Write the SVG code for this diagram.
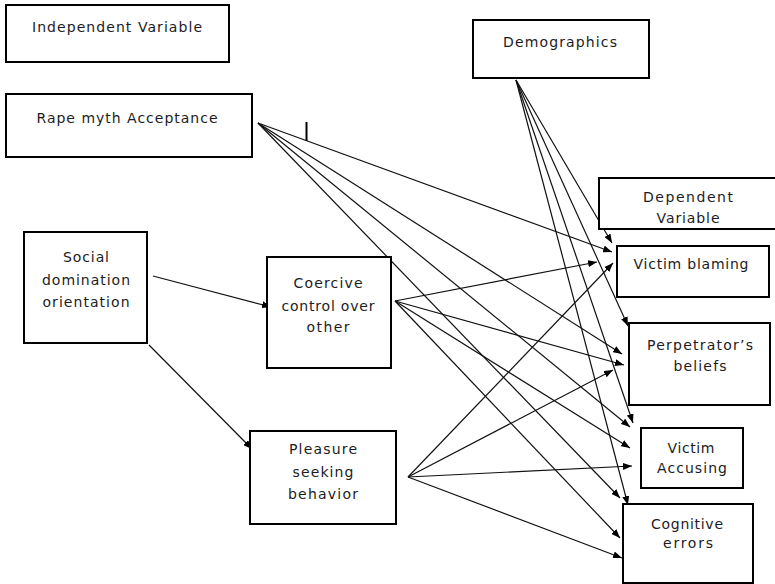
<svg xmlns="http://www.w3.org/2000/svg" width="775" height="584" viewBox="0 0 775 584">
<defs>
<style>
.box{fill:#fff;stroke:#000;stroke-width:2}
.t{font-family:"DejaVu Sans",Verdana,sans-serif;font-size:14px;fill:#1c1c24;text-anchor:middle}
.c{stroke:#111;stroke-width:1.2;fill:none;marker-end:url(#ah)}
</style>
<marker id="ah" markerUnits="userSpaceOnUse" markerWidth="9" markerHeight="7" refX="9" refY="3.5" orient="auto">
<path d="M0,0 L9,3.5 L0,7 z" fill="#000"/>
</marker>
</defs>
<rect width="775" height="584" fill="#fff"/>

<g id="connectors">
<path class="c" d="M258,123 L612,252"/>
<path class="c" d="M258,123 L622,354"/>
<path class="c" d="M258,123 L630,427"/>
<path class="c" d="M258,123 L620,498"/>
<path class="c" d="M516,80 L612,243"/>
<path class="c" d="M516,80 L628,326"/>
<path class="c" d="M516,80 L633,423"/>
<path class="c" d="M516,80 L628,505"/>
<path class="c" d="M395,301 L597,262"/>
<path class="c" d="M395,301 L624,365"/>
<path class="c" d="M395,301 L630,448"/>
<path class="c" d="M395,301 L620,538"/>
<path class="c" d="M408,477 L613,263"/>
<path class="c" d="M408,477 L613,370"/>
<path class="c" d="M408,477 L632,466"/>
<path class="c" d="M408,477 L622,558"/>
<path class="c" d="M153,276 L271,307"/>
<path class="c" d="M149,345 L252,449"/>
<line x1="306.5" y1="122" x2="306.5" y2="141" stroke="#000" stroke-width="2"/>
</g>

<g id="independent-variable">
<rect class="box" x="6" y="5" width="223" height="57"/>
<text class="t" x="117" y="32" textLength="170" lengthAdjust="spacing">Independent Variable</text>
</g>

<g id="rape-myth-acceptance">
<rect class="box" x="6" y="94" width="246" height="63"/>
<text class="t" x="127" y="123" textLength="181" lengthAdjust="spacing">Rape myth Acceptance</text>
</g>

<g id="demographics">
<rect class="box" x="473" y="20" width="176" height="58"/>
<text class="t" x="560" y="47" textLength="114" lengthAdjust="spacing">Demographics</text>
</g>

<g id="dependent-variable">
<rect class="box" x="599" y="178" width="178" height="51"/>
<text class="t" x="688" y="202" textLength="90" lengthAdjust="spacing">Dependent</text>
<text class="t" x="688" y="223" textLength="63" lengthAdjust="spacing">Variable</text>
</g>

<g id="social-domination-orientation">
<rect class="box" x="24" y="232" width="123" height="111"/>
<text class="t" x="86" y="262" textLength="46" lengthAdjust="spacing">Social</text>
<text class="t" x="86" y="285" textLength="88" lengthAdjust="spacing">domination</text>
<text class="t" x="86" y="307" textLength="87" lengthAdjust="spacing">orientation</text>
</g>

<g id="coercive-control">
<rect class="box" x="267" y="257" width="124" height="111"/>
<text class="t" x="328" y="288" textLength="69" lengthAdjust="spacing">Coercive</text>
<text class="t" x="328" y="311" textLength="93" lengthAdjust="spacing">control over</text>
<text class="t" x="328" y="332" textLength="43" lengthAdjust="spacing">other</text>
</g>

<g id="pleasure-seeking">
<rect class="box" x="250" y="431" width="146" height="93"/>
<text class="t" x="323" y="454" textLength="68" lengthAdjust="spacing">Pleasure</text>
<text class="t" x="323" y="477" textLength="61" lengthAdjust="spacing">seeking</text>
<text class="t" x="323" y="499" textLength="70" lengthAdjust="spacing">behavior</text>
</g>

<g id="victim-blaming">
<rect class="box" x="617" y="246" width="152" height="51"/>
<text class="t" x="691" y="269" textLength="115" lengthAdjust="spacing">Victim blaming</text>
</g>

<g id="perpetrators-beliefs">
<rect class="box" x="629" y="323" width="141" height="82"/>
<text class="t" x="700" y="350" textLength="106" lengthAdjust="spacing">Perpetrator’s</text>
<text class="t" x="700" y="371" textLength="53" lengthAdjust="spacing">beliefs</text>
</g>

<g id="victim-accusing">
<rect class="box" x="641" y="428" width="102" height="60"/>
<text class="t" x="691" y="453" textLength="47" lengthAdjust="spacing">Victim</text>
<text class="t" x="692" y="473" textLength="70" lengthAdjust="spacing">Accusing</text>
</g>

<g id="cognitive-errors">
<rect class="box" x="623" y="504" width="130" height="79"/>
<text class="t" x="687" y="529" textLength="72" lengthAdjust="spacing">Cognitive</text>
<text class="t" x="688" y="548" textLength="50" lengthAdjust="spacing">errors</text>
</g>
</svg>
